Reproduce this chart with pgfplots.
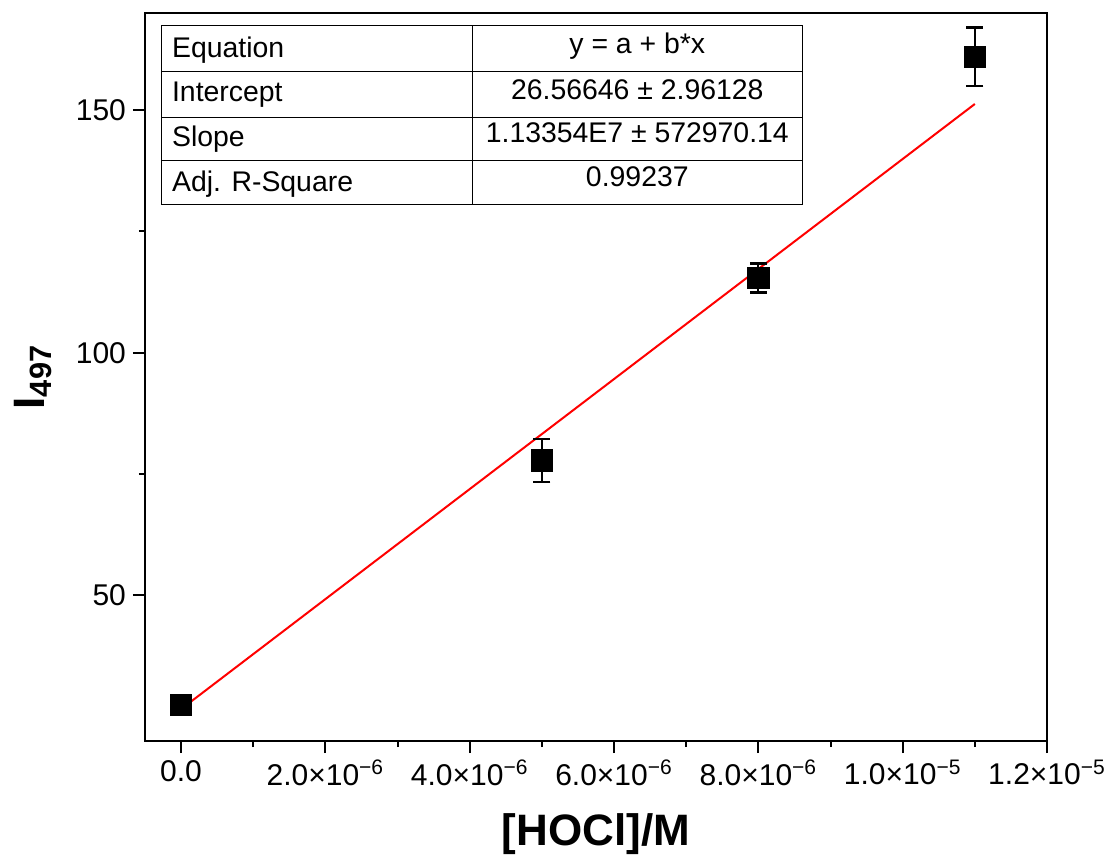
\documentclass[border=0pt]{standalone}
\usepackage{pgfplots}
\pgfplotsset{compat=1.18}
\usepackage{fontspec}
\setmainfont{Liberation Sans}
\begin{document}
\begin{tikzpicture}
\begin{axis}[
  scale only axis,
  width=451pt, height=364pt,
  xmin=-5e-7, xmax=1.2e-5,
  ymin=20, ymax=170,
  axis line style={line width=1pt},
  tick align=outside,
  xtick pos=bottom, ytick pos=left,
  major tick length=6pt, minor tick length=3pt,
  every tick/.style={black, line width=1pt},
  minor x tick num=1, minor y tick num=1,
  scaled x ticks=false,
  xtick={0,2e-6,4e-6,6e-6,8e-6,1e-5,1.2e-5},
  xticklabels={0.0,{2.0×10\textsuperscript{−6}},{4.0×10\textsuperscript{−6}},{6.0×10\textsuperscript{−6}},{8.0×10\textsuperscript{−6}},{1.0×10\textsuperscript{−5}},{1.2×10\textsuperscript{−5}}},
  ytick={50,100,150},
  /pgf/number format/assume math mode=true,
  tick label style={font=\fontsize{15}{18}\selectfont},
  xlabel={[HOCl]/M},
  ylabel={I\textsubscript{497}},
  label style={font=\fontsize{22}{26}\selectfont\bfseries},
  xlabel style={at={(rel axis cs:0.5,0)}, anchor=north, yshift=-33pt},
  ylabel style={at={(rel axis cs:0,0.5)}, anchor=south, yshift=43pt},
  clip=false,
]
\addplot[red, line width=1pt] coordinates {(0,26.56646) (1.1e-5,151.2554)};
\addplot[black, only marks, mark=square*, mark size=5.3pt,
  error bars/.cd, y dir=both, y explicit,
  error bar style={line width=1.1pt},
  error mark options={rotate=90, mark size=4.2pt, line width=1.1pt}]
  table[x=x, y=y, y error=e] {
x y e
0 27.4 0.8
5e-6 77.8 4.5
8e-6 115.4 3.0
1.1e-5 161.0 6.0
};
% fit result table
\draw[line width=0.5pt] (rel axis cs:0.0188,0.7376) rectangle (rel axis cs:0.7284,0.9822);
\draw[line width=0.5pt] (rel axis cs:0.3633,0.7376) -- (rel axis cs:0.3633,0.9822);
\draw[line width=0.5pt] (rel axis cs:0.0188,0.9190) -- (rel axis cs:0.7284,0.9190);
\draw[line width=0.5pt] (rel axis cs:0.0188,0.8571) -- (rel axis cs:0.7284,0.8571);
\draw[line width=0.5pt] (rel axis cs:0.0188,0.7967) -- (rel axis cs:0.7284,0.7967);
\begin{scope}[every node/.style={font=\fontsize{14.2}{17}\selectfont, inner sep=0pt}]
\node[anchor=base west] at (rel axis cs:0.0296,0.9382) {Equation};
\node[anchor=base west] at (rel axis cs:0.0296,0.8782) {Intercept};
\node[anchor=base west] at (rel axis cs:0.0296,0.8163) {Slope};
\node[anchor=base west] at (rel axis cs:0.0296,0.7545) {Adj. R-Square};
\node[anchor=base] at (rel axis cs:0.5458,0.9446) {y = a + b*x};
\node[anchor=base] at (rel axis cs:0.5458,0.8809) {26.56646 ± 2.96128};
\node[anchor=base] at (rel axis cs:0.5458,0.8219) {1.13354E7 ± 572970.14};
\node[anchor=base] at (rel axis cs:0.5458,0.7614) {0.99237};
\end{scope}
\end{axis}
\pgfresetboundingbox
\path[use as bounding box] (-72.5pt,-58.5pt) rectangle (483.5pt,370.5pt);
\end{tikzpicture}
\end{document}
